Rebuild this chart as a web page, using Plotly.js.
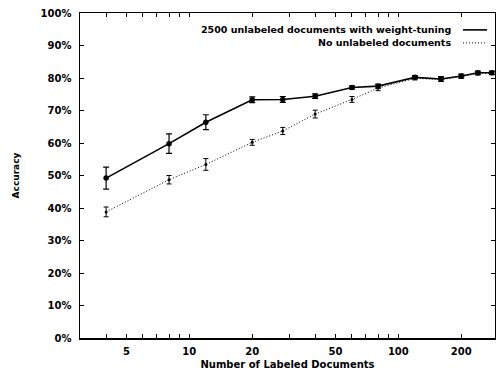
<!DOCTYPE html>
<html>
<head>
<meta charset="utf-8">
<script src="https://cdn.plot.ly/plotly-3.0.1.min.js"></script>
<style>html,body{margin:0;padding:0;background:#fff;}#chart{width:496px;height:370px;}</style>
</head>
<body>
<div id="chart"></div>
<script>
// Data
const labeledDocs = [4, 8, 12, 20, 28, 40, 60, 80, 120, 160, 200, 240, 280];
const withUnlabeled = [49.2, 59.8, 66.4, 73.3, 73.4, 74.4, 77.1, 77.5, 80.2, 79.7, 80.6, 81.6, 81.6];
const withUnlabeledErr = [3.4, 3.0, 2.3, 0.9, 0.9, 0.7, 0.5, 0.6, 0.5, 0.7, 0.6, 0.5, 0.5];
const noUnlabeled = [38.8, 48.7, 53.4, 60.2, 63.7, 68.9, 73.4, 76.9, 79.9, 79.5, 80.4, 81.4, 81.5];
const noUnlabeledErr = [1.5, 1.3, 1.8, 0.9, 1.1, 1.2, 0.9, 0.8, 0.5, 0.6, 0.5, 0.5, 0.5];
const seriesNames = ["2500 unlabeled documents with weight-tuning", "No unlabeled documents"];
const xTickVals = [3,4,5,6,7,8,9,10,20,30,40,50,60,70,80,90,100,200,300];
const xTickText = ["","","5","","","","","10","20","","","50","","","","","100","200",""];
const yTickVals = [0,10,20,30,40,50,60,70,80,90,100];
const yTickText = ["0%","10%","20%","30%","40%","50%","60%","70%","80%","90%","100%"];

const FONT = "DejaVu Sans, Arial, sans-serif";

const traces = [
  {
    x: labeledDocs, y: noUnlabeled, name: seriesNames[1], type: "scatter", mode: "lines+markers",
    line: {color: "#000", width: 1, dash: "1px,2px"},
    marker: {color: "#000", size: 3, symbol: "circle"},
    error_y: {type: "data", array: noUnlabeledErr, visible: true, color: "#000", thickness: 1, width: 2.5},
    showlegend: false
  },
  {
    x: labeledDocs, y: withUnlabeled, name: seriesNames[0], type: "scatter", mode: "lines+markers",
    line: {color: "#000", width: 1.6},
    marker: {color: "#000", size: 5.5, symbol: "circle"},
    error_y: {type: "data", array: withUnlabeledErr, visible: true, color: "#000", thickness: 1.2, width: 3},
    showlegend: false
  }
];

const legY = [0.948, 0.908];
const legFont = {family: FONT, size: 9.5, weight: "bold", color: "#000"};
const annotations = [
  {xref: "paper", yref: "paper", x: 0.899, y: legY[0], xanchor: "right", yanchor: "middle",
   text: seriesNames[0], showarrow: false, font: legFont},
  {xref: "paper", yref: "paper", x: 0.899, y: legY[1], xanchor: "right", yanchor: "middle",
   text: seriesNames[1], showarrow: false, font: legFont}
];
const shapes = [
  {type: "line", xref: "paper", yref: "paper", x0: 0.923, x1: 0.981, y0: legY[0], y1: legY[0],
   line: {color: "#000", width: 1.6}},
  {type: "line", xref: "paper", yref: "paper", x0: 0.923, x1: 0.981, y0: legY[1], y1: legY[1],
   line: {color: "#000", width: 1, dash: "1px,2px"}}
];

const tickFont = {family: FONT, size: 10, weight: "bold", color: "#000"};

const layout = {
  width: 496, height: 370,
  margin: {l: 80, r: 1, t: 13, b: 32},
  paper_bgcolor: "#fff", plot_bgcolor: "#fff",
  font: {family: FONT, color: "#000"},
  showlegend: false,
  xaxis: {
    type: "log",
    range: [Math.log10(3), Math.log10(290)],
    tickmode: "array", tickvals: xTickVals, ticktext: xTickText,
    ticks: "inside", ticklen: 4, tickwidth: 1, tickcolor: "#000",
    ticklabelstandoff: 3,
    showline: true, linecolor: "#000", linewidth: 1.5, mirror: "ticks",
    showgrid: false, zeroline: false,
    tickfont: tickFont,
    title: {text: "Number of Labeled Documents", standoff: 5,
            font: {family: FONT, size: 10, weight: "bold", color: "#000"}}
  },
  yaxis: {
    range: [0, 100],
    tickmode: "array", tickvals: yTickVals, ticktext: yTickText,
    ticks: "inside", ticklen: 4, tickwidth: 1, tickcolor: "#000",
    ticklabelstandoff: 5,
    showline: true, linecolor: "#000", linewidth: 1.5, mirror: "ticks",
    showgrid: false, zeroline: false,
    tickfont: tickFont,
    title: {text: "Accuracy", standoff: 19,
            font: {family: FONT, size: 9, weight: "bold", color: "#000"}}
  },
  annotations: annotations,
  shapes: shapes
};

Plotly.newPlot("chart", traces, layout, {displayModeBar: false, staticPlot: true});
</script>
</body>
</html>
